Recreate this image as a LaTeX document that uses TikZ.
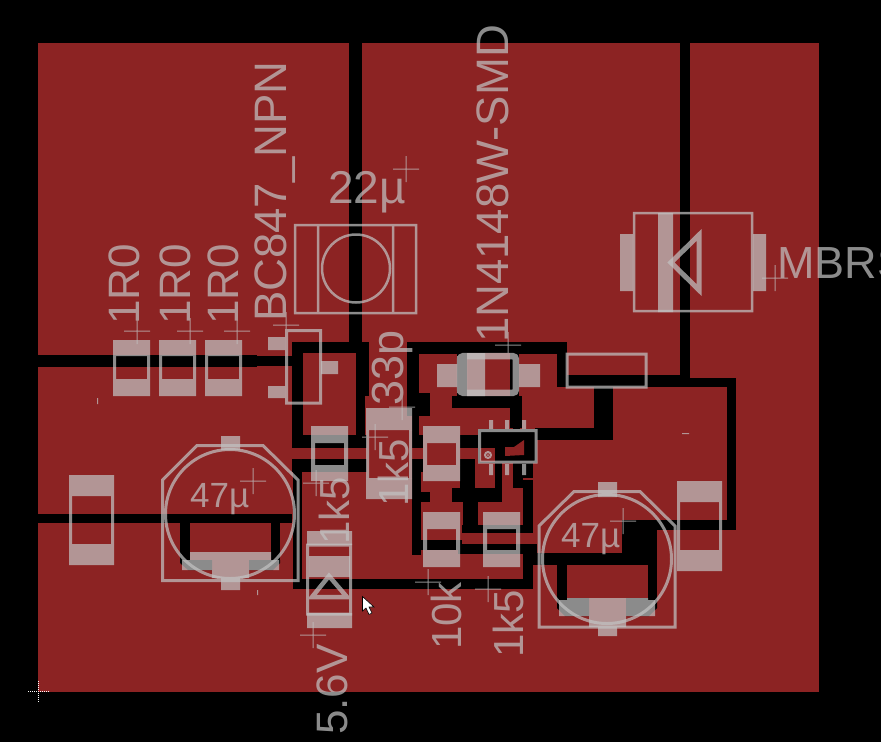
\documentclass[tikz,border=0pt]{standalone}
\usepackage{fontspec}
\setmainfont{Liberation Sans}
\definecolor{cu}{RGB}{140,35,35}
\definecolor{ov}{RGB}{194,194,194}
\newcommand{\bk}[4]{\fill[black] (#1,#2) rectangle (#3,#4);}
\newcommand{\rd}[4]{\fill[cu] (#1,#2) rectangle (#3,#4);}
\newcommand{\pd}[4]{\fill[ov] (#1,#2) rectangle (#3,#4);}
\newcommand{\crs}[2]{\draw[ov,line width=1pt] (#1-13,#2) -- (#1+13,#2) (#1,#2-13) -- (#1,#2+13);}
% vertical part: x1 x2, pad1 top, pad1 bottom, pad2 top, pad2 bottom, side width
\newcommand{\resv}[7]{\pd{#1}{#3}{#2}{#4}\pd{#1}{#5}{#2}{#6}\pd{#1}{#4}{#1+#7}{#5}\pd{#2-#7}{#4}{#2}{#5}}
\newcommand{\rtxt}[4]{\node[rotate=90,anchor=base west,inner sep=0pt,text=ov,font=\fontsize{#4}{#4}\selectfont] at (#1,#2) {#3};}
\newcommand{\htxt}[4]{\node[anchor=base west,inner sep=0pt,text=ov,font=\fontsize{#4}{#4}\selectfont] at (#1,#2) {#3};}
\begin{document}
\begin{tikzpicture}[x=1pt,y=-1pt]
\useasboundingbox (0,0) rectangle (881,742);
\fill[black] (0,0) rectangle (881,742);
\fill[cu] (38,43) rectangle (819,692);
% isolation gaps
\bk{349}{43}{362}{342}
\bk{680}{43}{690}{378}
\bk{38}{355}{257}{367}\bk{257}{356}{292}{366}
\bk{292}{342}{369}{353}\bk{292}{342}{303}{448}\bk{356}{342}{369}{396}\bk{356}{396}{365}{435}
\bk{292}{435}{367}{448}\bk{412}{435}{423}{448}\bk{460}{435}{480}{448}
\bk{292}{459}{367}{472}\bk{412}{459}{423}{472}\bk{460}{459}{475}{488}
\bk{293}{459}{302}{588}
\bk{293}{579}{533}{589}
\bk{523}{545}{533}{587}
\bk{421}{540}{462}{550}\bk{458}{544}{537}{554}\bk{413}{550}{421}{555}
\bk{412}{459}{421}{555}
\bk{412}{492}{430}{502}\bk{452}{488}{502}{502}\bk{463}{502}{478}{525}\bk{462}{525}{533}{533}
\bk{495}{462}{502}{502}\bk{513}{462}{523}{488}\bk{523}{480}{533}{533}\bk{520}{462}{533}{478}
\bk{407}{342}{560}{354}\bk{407}{342}{419}{393}\bk{407}{393}{430}{416}\bk{412}{416}{419}{435}
\bk{557}{342}{567}{387}
\bk{457}{353}{519}{396}\bk{452}{396}{522}{408}\bk{510}{408}{522}{428}
\rd{467}{353}{510}{396}
\bk{478}{429}{537}{463}\bk{513}{420}{520}{430}
\rd{480}{448}{495}{462}
\fill[cu] (505,447) -- (514,447) -- (524,440) -- (524,455) -- (505,456) -- cycle;
\bk{535}{428}{613}{440}\bk{594}{387}{613}{440}
\bk{566}{375}{680}{387}\bk{680}{378}{736}{387}\bk{727}{378}{736}{530}
\bk{622}{520}{736}{530}\bk{622}{520}{657}{553}\bk{533}{553}{657}{565}
\bk{557}{553}{567}{600}\bk{648}{553}{657}{600}
\fill[black] (557,598) -- (589,598) -- (589,616) -- (565,616) -- (557,608) -- cycle;
\fill[black] (626,598) -- (657,598) -- (657,608) -- (649,616) -- (626,616) -- cycle;
\bk{38}{514}{292}{523}
\bk{180}{523}{190}{560}\bk{271}{523}{280}{560}
\fill[black] (180,560) -- (212,560) -- (212,570) -- (188,570) -- (180,563) -- cycle;
\fill[black] (249,560) -- (280,560) -- (280,563) -- (273,570) -- (249,570) -- cycle;
% pad layer
\begin{scope}[transparency group,opacity=.72]
\resv{113}{150}{340}{356}{379}{396}{3}
\resv{159}{196}{340}{356}{379}{396}{3}
\resv{205}{242}{340}{356}{379}{396}{3}
\resv{69}{114}{475}{496}{544}{565}{3}
\resv{311}{348}{426}{443}{465}{481}{4}
\resv{423}{460}{426}{443}{465}{481}{4}
\pd{366}{408}{412}{430}\pd{366}{478}{412}{499}
\resv{423}{460}{512}{529}{550}{567}{4}
\resv{483}{520}{512}{529}{550}{567}{4}
\resv{677}{722}{481}{502}{550}{571}{3}
\pd{268}{337}{285}{350}\pd{268}{386}{285}{398}\pd{321}{361}{338}{374}
\pd{620}{234}{633}{291}\pd{753}{234}{766}{291}\pd{658}{213}{673}{312}
\pd{437}{364}{457}{387}\pd{519}{364}{540}{387}
\pd{467}{353}{485}{396}
\pd{307}{531}{352}{545}\pd{307}{613}{352}{628}\pd{309}{556}{350}{577}
\pd{221}{436}{240}{450}\pd{190}{552}{271}{560}\pd{182}{560}{279}{570}\pd{212}{570}{249}{578}\pd{221}{578}{240}{590}
\pd{598}{482}{617}{497}\pd{567}{598}{648}{600}\pd{559}{600}{655}{616}\pd{589}{616}{626}{627}\pd{598}{627}{617}{636}
\end{scope}
% silk layer
\begin{scope}[transparency group,opacity=.72]
\pd{366}{430}{369}{478}\pd{409}{430}{412}{478}
\draw[ov,line width=3pt] (286.5,330.5) rectangle (320.5,403);
\draw[ov,line width=2.5pt] (295,225) rectangle (416,313);
\draw[ov,line width=2.5pt] (318,225) -- (318,313) (393,225) -- (393,313);
\draw[ov,line width=2.5pt] (356,268.5) circle (34);
\draw[ov,line width=2.5pt] (634,213) rectangle (752,311);
\draw[ov,line width=5pt,miter limit=3] (699,235) -- (699,290) -- (671,262.5) -- cycle;
\draw[ov,line width=6.5pt,rounded corners=3pt] (460.2,356.2) rectangle (515.8,392.8);
\pd{457}{356}{467}{393}
\draw[ov,line width=3pt] (567,354) rectangle (646,387);
\draw[ov,line width=3pt] (479.5,430.5) rectangle (536,462);
\pd{489}{420}{493}{430}\pd{505}{420}{509}{430}\pd{522}{420}{526}{430}
\pd{489}{464}{493}{475}\pd{505}{464}{509}{475}\pd{522}{464}{526}{475}
\draw[ov,line width=2pt] (488,455) circle (3);
\fill[ov] (488,455) circle (1);
\draw[ov,line width=3pt] (307.5,545) rectangle (350.5,614);
\draw[ov,line width=4.5pt,miter limit=3] (329,576) -- (347,597) -- (312,597) -- cycle;
\draw[ov,line width=3pt] (230,514) circle (64.5);
\draw[ov,line width=3pt] (162.5,480) -- (197,445.5) -- (263,445.5) -- (298,480) -- (298,580.5) -- (162.5,580.5) -- cycle;
\draw[ov,line width=3pt] (607,559) circle (64.5);
\draw[ov,line width=3pt] (539,526) -- (574,491.5) -- (640,491.5) -- (675,526) -- (675,627) -- (539,627) -- cycle;
\crs{137}{331}\crs{190}{331}\crs{237}{331}\crs{286}{325}\crs{406}{169}\crs{775}{278}
\crs{508}{345}\crs{402}{407}\crs{375}{437}\crs{316}{483}\crs{253}{481}\crs{623}{521}
\crs{428}{582}\crs{488}{589}\crs{313}{635}
\pd{97}{398}{98}{404}\pd{257}{590}{258}{595}\pd{682}{433}{689}{434}
\rtxt{139}{325}{1R0}{44}\rtxt{190}{325}{1R0}{44}\rtxt{238}{325}{1R0}{44}
\rtxt{286}{322}{BC847\_NPN}{45.5}
\rtxt{508}{343}{1N4148W-SMD}{45.5}
\rtxt{403}{406}{33p}{45}
\rtxt{408}{507}{1k5}{42}
\rtxt{349}{545}{1k5}{42}
\rtxt{461}{650}{10k}{42}
\rtxt{523}{658}{1k5}{42}
\rtxt{347}{735}{5.6V}{44}
\htxt{328}{203}{22µ}{46}
\htxt{190}{507}{47µ}{35}
\htxt{561}{547}{47µ}{35}
\htxt{777}{278}{MBRS}{45}
\end{scope}
% origin mark
\draw[white,line width=1pt,dash pattern=on 1pt off 1pt] (28,691.5) -- (49,691.5) (38.5,681) -- (38.5,702);
% cursor
\fill[white,draw=black,line width=.6pt] (362.5,596.5) -- (362.5,611) -- (366,608) -- (369,614.5) -- (372,613) -- (369,607) -- (374,607) -- cycle;
\end{tikzpicture}
\end{document}
